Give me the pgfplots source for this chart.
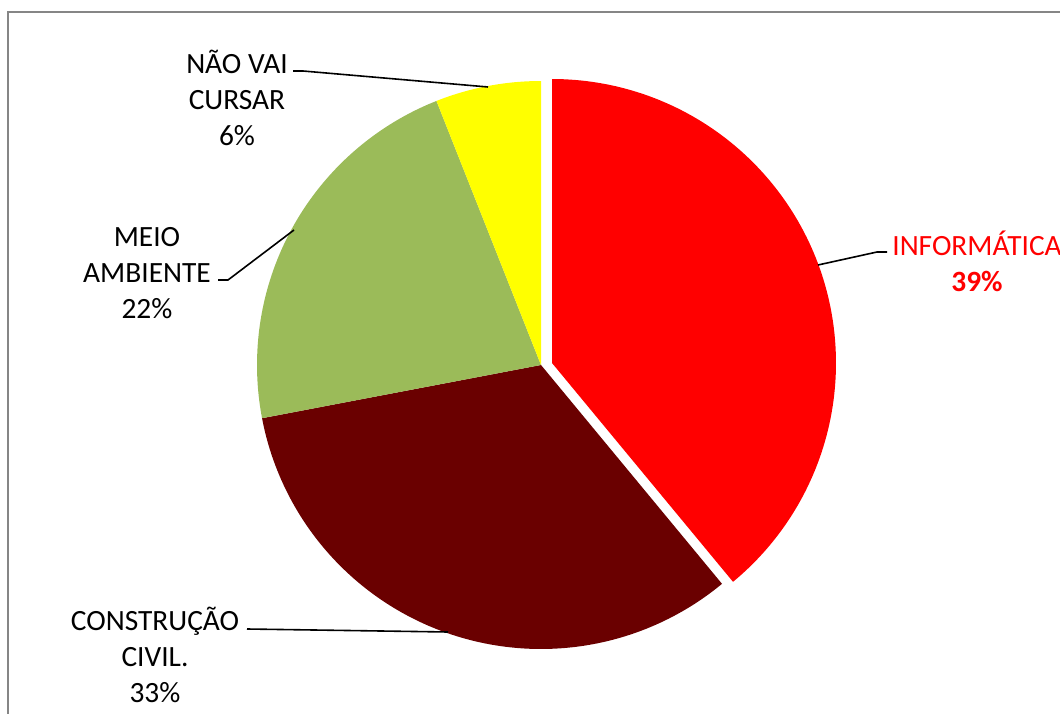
\documentclass[border=0pt]{standalone}
\usepackage{pgfplots}
\usepackage{pgfplotstable}
\pgfplotsset{compat=1.18}
\usepackage{fontspec}
\setmainfont{Carlito}
\definecolor{cInf}{RGB}{255,0,0}
\definecolor{cCon}{RGB}{106,0,0}
\definecolor{cMeio}{RGB}{155,187,89}
\definecolor{cNao}{RGB}{255,255,0}
\definecolor{frame}{RGB}{134,134,134}

\pgfplotstableread{
name value
INF 39
CON 33
MEIO 22
NAO 6
}\piedata
\pgfplotstablegetelem{0}{value}\of\piedata \let\vInf\pgfplotsretval
\pgfplotstablegetelem{1}{value}\of\piedata \let\vCon\pgfplotsretval
\pgfplotstablegetelem{2}{value}\of\piedata \let\vMeio\pgfplotsretval
\pgfplotstablegetelem{3}{value}\of\piedata \let\vNao\pgfplotsretval

% cumulative angles (clockwise from 90 deg)
\pgfmathsetmacro{\aA}{90}
\pgfmathsetmacro{\aB}{90-3.6*\vInf}
\pgfmathsetmacro{\aC}{\aB-3.6*\vCon}
\pgfmathsetmacro{\aD}{\aC-3.6*\vMeio}
\pgfmathsetmacro{\aE}{\aD-3.6*\vNao}

\def\R{284}
\def\cx{541}
\def\cy{348}
\def\ex{552}
\def\ey{350}

\begin{document}
\begin{tikzpicture}
\useasboundingbox (0,0) rectangle (530pt,356.5pt);
\begin{axis}[
  at={(0,0)}, anchor=origin,
  x=0.5pt, y=0.5pt,
  xmin=0, xmax=1060, ymin=0, ymax=713,
  hide axis, clip=false,
  font=\fontsize{14.7}{18}\selectfont,
]
% frame
\draw[frame, line width=1pt] (axis cs:8,-20) -- (axis cs:8,701) -- (axis cs:1100,701);

% slices
\addplot[fill=cInf, draw=none, domain=\aB:\aA, samples=120, variable=\t]
  ({\ex+\R*cos(\t)},{\ey+\R*sin(\t)}) -- (axis cs:\ex,\ey) -- cycle;
\addplot[fill=cCon, draw=none, domain=\aC:\aB, samples=120, variable=\t]
  ({\cx+\R*cos(\t)},{\cy+\R*sin(\t)}) -- (axis cs:\cx,\cy) -- cycle;
\addplot[fill=cMeio, draw=none, domain=\aD:\aC, samples=90, variable=\t]
  ({\cx+\R*cos(\t)},{\cy+\R*sin(\t)}) -- (axis cs:\cx,\cy) -- cycle;
\addplot[fill=cNao, draw=none, domain=\aE:\aD, samples=40, variable=\t]
  ({\cx+\R*cos(\t)},{\cy+\R*sin(\t)}) -- (axis cs:\cx,\cy) -- cycle;

% leader lines
\draw[black, line width=0.8pt] (axis cs:293,642) -- (axis cs:303,642) -- (axis cs:488,626);
\draw[black, line width=0.8pt] (axis cs:218,433) -- (axis cs:228,433) -- (axis cs:294,483);
\draw[black, line width=0.8pt] (axis cs:818,448) -- (axis cs:877,461) -- (axis cs:887,461);
\draw[black, line width=0.8pt] (axis cs:247,84) -- (axis cs:448,81);

% labels
\node[align=center, text=black] at (axis cs:237,615) {NÃO VAI\\CURSAR\\\vNao\%};
\node[align=center, text=black] at (axis cs:147,440) {MEIO\\AMBIENTE\\\vMeio\%};
\node[align=center, text=black] at (axis cs:155,58) {CONSTRUÇÃO\\CIVIL.\\\vCon\%};
\node[align=center, text=cInf] at (axis cs:977,452) {INFORMÁTICA\\\textbf{\vInf\%}};
\end{axis}
\end{tikzpicture}
\end{document}
